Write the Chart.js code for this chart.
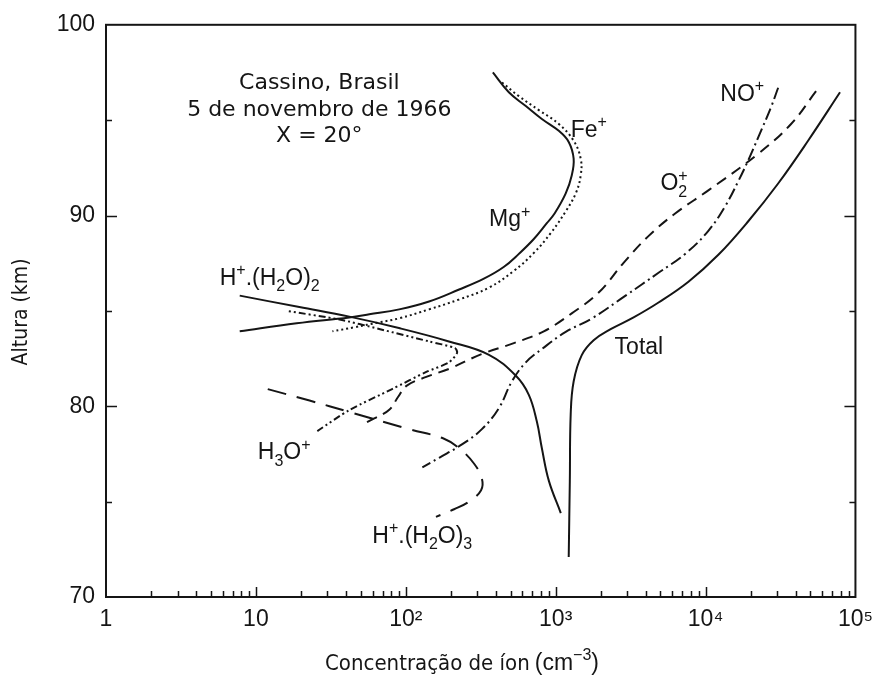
<!DOCTYPE html>
<html>
<head>
<meta charset="utf-8">
<script src="https://cdn.jsdelivr.net/npm/chart.js@4.4.1/dist/chart.umd.min.js"></script>
<style>
  html, body { margin: 0; padding: 0; background: #fff; }
</style>
</head>
<body>
<canvas id="ionChart" width="882" height="675"></canvas>
<script>
// Ion concentration (cm^-3) vs altitude (km), Cassino, Brasil, 5 Nov 1966
const mgConc = [381, 487, 632, 809, 1049, 1222, 1318, 1280, 1167, 986, 873, 715, 568, 450, 332, 227, 143, 90.4, 57.1, 42, 18.7, 7.8];
const mgAlt  = [97.5, 96.46, 95.74, 95.06, 94.44, 93.86, 92.98, 92.1, 91.16, 90.12, 89.6, 88.77, 87.99, 87.3, 86.69, 86.12, 85.49, 85.08, 84.82, 84.66, 84.35, 83.93];

const feConc = [438, 568, 772, 1049, 1318, 1469, 1469, 1361, 1167, 927, 715, 526, 359, 227, 143, 90.4, 66.5, 45.4, 32.4];
const feAlt  = [96.98, 96.26, 95.53, 94.8, 93.92, 92.98, 92.1, 91.16, 90.22, 89.08, 88.04, 87.1, 86.22, 85.6, 85.08, 84.61, 84.4, 84.14, 83.93];

const h2Conc = [7.8, 19.5, 42, 90, 194, 359, 543, 662, 749, 809, 900, 1082];
const h2Alt  = [85.8, 85.2, 84.7, 84.1, 83.4, 82.7, 81.6, 80.6, 79.2, 77.8, 76.1, 74.4];

const totConc = [1222, 1243, 1260, 1318, 1493, 1792, 2326, 3311, 4856, 7690, 12170, 19270, 30500, 48300, 78900];
const totAlt  = [72.1, 76.1, 79.6, 81.3, 82.68, 83.46, 84.04, 84.66, 85.44, 86.53, 87.94, 89.7, 91.68, 93.92, 96.46];

const o2Conc = [54600, 37200, 22460, 10440, 6300, 4160, 2838, 1936, 1280, 833, 526, 322, 194, 137, 101, 89, 77.6, 61.6, 51.3];
const o2Alt  = [96.52, 94.8, 93.24, 91.32, 90.12, 88.92, 87.52, 85.96, 84.87, 83.93, 83.31, 82.74, 81.96, 81.54, 81.07, 80.5, 79.82, 79.36, 79.04];

const noConc = [30500, 27400, 22460, 19270, 16530, 13540, 10440, 7340, 4856, 2926, 1740, 1167, 809, 632, 510, 418, 322, 237, 167, 129];
const noAlt  = [96.7, 95.7, 94.1, 92.9, 91.8, 90.5, 89.2, 88.0, 87.0, 85.8, 84.6, 83.9, 83.0, 82.3, 81.3, 79.9, 78.8, 78.0, 77.3, 76.8];

const h3oConc = [25.7, 42, 81, 137, 194, 220, 213, 143, 66.5, 36.1, 16.0];
const h3oAlt  = [78.7, 79.8, 80.9, 81.8, 82.3, 82.8, 83.05, 83.4, 84.05, 84.55, 85.0];

const h3Conc = [12.0, 22.8, 42, 105, 180, 227, 285, 322, 318, 264, 210, 159];
const h3Alt  = [80.9, 80.3, 79.7, 78.8, 78.3, 77.8, 77.0, 76.2, 75.6, 75.0, 74.6, 74.2];

const xTickLabels = { 1: '1', 10: '10', 100: '10²', 1000: '10³', 10000: '10⁴', 100000: '10⁵' };
const yTickLabels = [70, 80, 90, 100];

const infoLines = ['Cassino, Brasil', '5 de novembro de 1966', 'X = 20°'];

// label parts: [text, 'sup' | 'sub', keepX]
const curveLabels = [
  { parts: [['H'], ['+', 'sup'], ['.(H'], ['2', 'sub'], ['O)'], ['2', 'sub']], conc: 5.74, alt: 86.38 },
  { parts: [['Fe'], ['+', 'sup']], conc: 1260, alt: 94.12 },
  { parts: [['Mg'], ['+', 'sup']], conc: 359, alt: 89.44 },
  { parts: [['NO'], ['+', 'sup']], conc: 12540, alt: 96.0 },
  { parts: [['O'], ['2', 'sub', true], ['+', 'sup']], conc: 5000, alt: 91.32 },
  { parts: [['Total']], conc: 2473, alt: 82.74 },
  { parts: [['H'], ['3', 'sub'], ['O'], ['+', 'sup']], conc: 10.3, alt: 77.22 },
  { parts: [['H'], ['+', 'sup'], ['.(H'], ['2', 'sub'], ['O)'], ['3', 'sub']], conc: 59.8, alt: 72.85 }
];

const ink = '#151515';
const sans = "'Liberation Sans', Arial, sans-serif";
const verdana = "'DejaVu Sans', Verdana, sans-serif";
const condensed = "'DejaVu Sans Condensed', 'DejaVu Sans', sans-serif";

function pairs(xs, ys) {
  return xs.map((x, i) => ({ x: x, y: ys[i] }));
}

function series(label, xs, ys, dash, tension) {
  return {
    label: label,
    data: pairs(xs, ys),
    showLine: true,
    borderColor: ink,
    borderWidth: 2,
    borderDash: dash,
    pointRadius: 0,
    fill: false,
    tension: tension === undefined ? 0.4 : tension
  };
}

function isDecade(v) {
  const l = Math.log10(v);
  return Math.abs(l - Math.round(l)) < 1e-9;
}

function richWidth(ctx, parts, size, family) {
  let w = 0;
  parts.forEach(p => {
    const s = p[1] ? Math.round(size * 0.68) : size;
    ctx.font = s + 'px ' + family;
    if (!p[2]) w += ctx.measureText(p[0]).width;
  });
  return w;
}

function drawRich(ctx, parts, x, yBase, size, family) {
  let cx = x;
  parts.forEach(p => {
    const kind = p[1];
    const s = kind ? Math.round(size * 0.68) : size;
    ctx.font = s + 'px ' + family;
    const dy = kind === 'sup' ? -size * 0.42 : kind === 'sub' ? size * 0.28 : 0;
    ctx.fillText(p[0], cx, yBase + dy);
    if (!p[2]) cx += ctx.measureText(p[0]).width;
  });
}

const frameAndText = {
  id: 'frameAndText',
  afterDatasetsDraw(chart) {
    const ctx = chart.ctx;
    const a = chart.chartArea;
    const x = chart.scales.x;
    const y = chart.scales.y;
    ctx.save();

    // frame
    ctx.strokeStyle = ink;
    ctx.lineWidth = 2;
    ctx.strokeRect(a.left, a.top, a.right - a.left, a.bottom - a.top);

    // inward tick marks
    ctx.lineWidth = 1.5;
    ctx.beginPath();
    x.ticks.forEach(t => {
      const v = t.value;
      if (v <= 1 || v >= 1e5) return;
      const mant = v / Math.pow(10, Math.floor(Math.log10(v) + 1e-9));
      if (Math.abs(mant - Math.round(mant)) > 1e-6) return;
      const px = Math.round(x.getPixelForValue(v)) + 0.5;
      const len = isDecade(v) ? 10 : 6;
      ctx.moveTo(px, a.bottom);
      ctx.lineTo(px, a.bottom - len);
    });
    y.ticks.forEach(t => {
      if (t.value <= 70 || t.value >= 100) return;
      const py = Math.round(y.getPixelForValue(t.value)) + 0.5;
      const len = t.value % 10 === 0 ? 11 : 6;
      ctx.moveTo(a.left, py);
      ctx.lineTo(a.left + len, py);
      ctx.moveTo(a.right, py);
      ctx.lineTo(a.right - len, py);
    });
    ctx.stroke();

    ctx.fillStyle = ink;
    ctx.textBaseline = 'alphabetic';

    // site / date block
    ctx.textAlign = 'center';
    ctx.font = '22px ' + verdana;
    const ix = x.getPixelForValue(26.5);
    const iy = y.getPixelForValue(96.62);
    infoLines.forEach((line, i) => ctx.fillText(line, ix, iy + i * 26.5));

    // curve labels
    ctx.textAlign = 'left';
    curveLabels.forEach(l => {
      drawRich(ctx, l.parts, x.getPixelForValue(l.conc), y.getPixelForValue(l.alt), 23, sans);
    });

    // axis titles
    const main = 'Concentração de íon';
    const unit = [['(cm'], ['−3', 'sup'], [')']];
    ctx.font = '22px ' + condensed;
    const mw = ctx.measureText(main).width;
    const uw = richWidth(ctx, unit, 23, sans);
    const gap = 5;
    const startX = 462 - (mw + gap + uw) / 2;
    ctx.font = '22px ' + condensed;
    ctx.fillText(main, startX, 670);
    drawRich(ctx, unit, startX + mw + gap, 670, 23, sans);

    ctx.save();
    ctx.translate(22, (a.top + a.bottom) / 2 + 1);
    ctx.rotate(-Math.PI / 2);
    ctx.textAlign = 'center';
    ctx.textBaseline = 'middle';
    ctx.font = '21px ' + condensed;
    ctx.fillText('Altura (km)', 0, 0);
    ctx.restore();

    ctx.restore();
  }
};

Chart.defaults.font.family = sans;
Chart.defaults.color = ink;

new Chart(document.getElementById('ionChart'), {
  type: 'scatter',
  data: {
    datasets: [
      series('Mg+', mgConc, mgAlt, []),
      series('Fe+', feConc, feAlt, [2, 3]),
      series('H+.(H2O)2', h2Conc, h2Alt, []),
      series('Total', totConc, totAlt, []),
      series('O2+', o2Conc, o2Alt, [11, 7]),
      series('NO+', noConc, noAlt, [12, 4, 2, 4]),
      series('H3O+', h3oConc, h3oAlt, [7, 3, 2, 3, 2, 3], 0.25),
      series('H+.(H2O)3', h3Conc, h3Alt, [19, 11])
    ]
  },
  options: {
    responsive: false,
    animation: false,
    devicePixelRatio: 1,
    layout: { padding: { top: 20, right: 24, left: 0, bottom: 0 } },
    plugins: {
      legend: { display: false },
      tooltip: { enabled: false }
    },
    scales: {
      x: {
        type: 'logarithmic',
        min: 1,
        max: 100000,
        grid: { display: false, drawTicks: false },
        border: { display: false },
        ticks: {
          autoSkip: false,
          maxRotation: 0,
          padding: 9,
          font: { size: 23 },
          callback: v => xTickLabels[v] || ''
        },
        afterFit: s => { s.height = 78; }
      },
      y: {
        type: 'linear',
        min: 70,
        max: 100,
        grid: { display: false, drawTicks: false },
        border: { display: false },
        ticks: {
          stepSize: 5,
          padding: 11,
          font: { size: 23 },
          callback: v => yTickLabels.includes(v) ? String(v) : ''
        },
        afterFit: s => { s.width = 106; }
      }
    }
  },
  plugins: [frameAndText]
});
</script>
</body>
</html>
